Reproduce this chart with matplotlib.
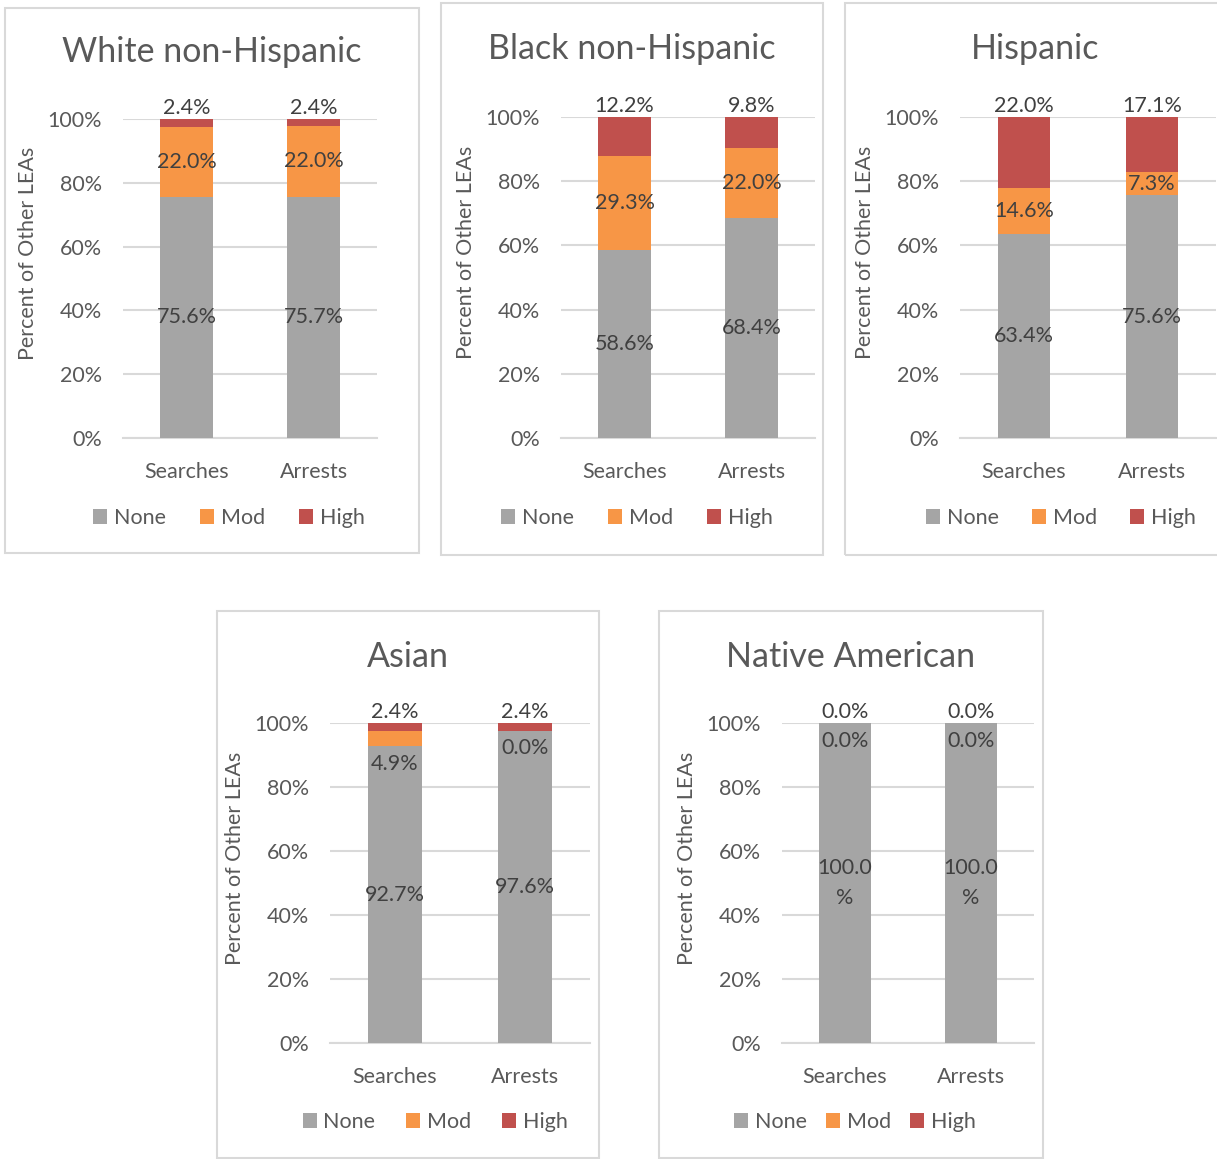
import matplotlib
matplotlib.use("Agg")
import matplotlib.pyplot as plt
from matplotlib.patches import Rectangle, Patch

plt.rcParams['font.family'] = ['Lato', 'DejaVu Sans']

# Share of other LEAs by disparity level, per group (percent)
groups = ["White non-Hispanic", "Black non-Hispanic", "Hispanic", "Asian", "Native American"]
categories = ["Searches", "Arrests"]
levels = ["None", "Mod", "High"]
none_vals = [[75.6, 75.7], [58.6, 68.4], [63.4, 75.6], [92.7, 97.6], [100.0, 100.0]]
mod_vals = [[22.0, 22.0], [29.3, 22.0], [14.6, 7.3], [4.9, 0.0], [0.0, 0.0]]
high_vals = [[2.4, 2.4], [12.2, 9.8], [22.0, 17.1], [2.4, 2.4], [0.0, 0.0]]

colors = {"None": "#A5A5A5", "Mod": "#F79646", "High": "#C0504D"}
text_grey = "#595959"
label_grey = "#404040"
grid_grey = "#D9D9D9"
fs = 15.5

W, H = 1217, 1159
fig = plt.figure(figsize=(W / 100, H / 100), dpi=100)

# layout in pixels: panel frame, plot area, title baseline, legend centre, legend spacing
frames = [(5, 8, 419, 553), (441, 3, 823, 555), (845, 3, 1225, 555),
          (217, 611, 599, 1158), (659, 611, 1043, 1158)]
plots = [(123, 119, 377, 438), (561, 117, 815, 438), (960, 117, 1216, 438),
         (330, 723, 590, 1043), (782, 723, 1034, 1043)]
title_y = [62, 59, 59, 667, 667]
legend_xy = [(229, 518), (637, 518), (1061, 518), (435, 1122), (855, 1122)]
legend_sp = [1.6, 1.6, 1.55, 1.45, 0.9]


def fx(x):
    return x / W


def fy(y):
    return 1 - y / H


def fmt(v):
    s = f"{v:.1f}%"
    return s[:-1] + "\n%" if len(s) > 5 else s


for i, g in enumerate(groups):
    x0, y0, x1, y1 = frames[i]
    fig.patches.append(Rectangle((fx(x0), fy(y1)), fx(x1 - x0), (y1 - y0) / H,
                                 transform=fig.transFigure, fill=False,
                                 edgecolor=grid_grey, linewidth=1.5))

    px0, py0, px1, py1 = plots[i]
    ax = fig.add_axes([fx(px0), fy(py1), fx(px1 - px0), (py1 - py0) / H])
    ax.set_xlim(-0.5, 1.5)
    ax.set_ylim(0, 100)

    xs = range(len(categories))
    n = none_vals[i]
    m = mod_vals[i]
    h = high_vals[i]
    bw = 0.41
    ax.bar(xs, n, bw, color=colors["None"], zorder=2)
    ax.bar(xs, m, bw, bottom=n, color=colors["Mod"], zorder=2)
    ax.bar(xs, h, bw, bottom=[a + b for a, b in zip(n, m)], color=colors["High"], zorder=2)

    for j in xs:
        ax.text(j, n[j] / 2, fmt(n[j]), ha="center", va="center", fontsize=fs,
                color=label_grey, linespacing=1.6, zorder=3)
        if m[j] >= 6:
            my = n[j] + m[j] / 2
        else:
            my = n[j] - 5.5
        ax.text(j, my, fmt(m[j]), ha="center", va="center", fontsize=fs,
                color=label_grey, zorder=3)
        ax.text(j, 103.3, fmt(h[j]), ha="center", va="center", fontsize=fs,
                color=label_grey, zorder=3, clip_on=False)

    ax.set_yticks(range(0, 101, 20))
    ax.set_yticklabels([f"{t}%" for t in range(0, 101, 20)])
    ax.set_xticks(list(xs))
    ax.set_xticklabels(categories)
    ax.tick_params(axis="y", length=0, pad=15, labelsize=fs, labelcolor=text_grey)
    ax.tick_params(axis="x", length=0, pad=17, labelsize=fs, labelcolor=text_grey)
    ax.grid(axis="y", color=grid_grey, linewidth=1.5, zorder=0)
    ax.set_axisbelow(True)
    for side in ["top", "right", "left"]:
        ax.spines[side].set_visible(False)
    ax.spines["bottom"].set_color(grid_grey)
    ax.spines["bottom"].set_linewidth(1.5)
    ax.spines["bottom"].set_zorder(1)

    fig.text(fx(px0 - 95), fy((py0 + py1) / 2 - 25), "Percent of Other LEAs", rotation=90,
             ha="center", va="center", fontsize=fs, color=text_grey)
    fig.text(fx((x0 + x1) / 2), fy(title_y[i]), g, ha="center", va="baseline",
             fontsize=24.5, color=text_grey)

    handles = [Patch(facecolor=colors[k], edgecolor="none") for k in levels]
    lx, ly = legend_xy[i]
    fig.legend(handles, levels, loc="center", ncol=3, frameon=False,
               bbox_to_anchor=(fx(lx), fy(ly)), fontsize=fs,
               labelcolor=text_grey, handlelength=0.65, handleheight=0.65,
               handletextpad=0.3, columnspacing=legend_sp[i])

fig.savefig("out.png", dpi=100, facecolor="white")
